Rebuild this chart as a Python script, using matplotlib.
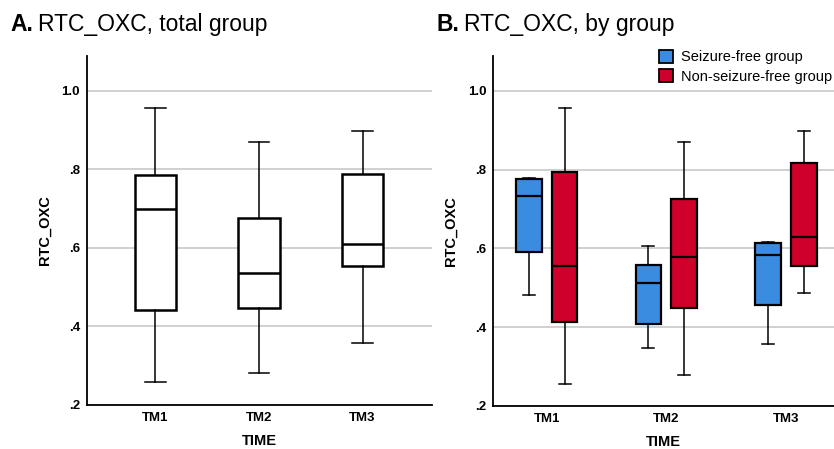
import matplotlib.pyplot as plt
import numpy as np

plt.rcParams['font.family'] = ['Liberation Sans', 'DejaVu Sans']

times = ['TM1', 'TM2', 'TM3']

# five-number summaries: low whisker, Q1, median, Q3, high whisker
total_stats = [
    [0.258, 0.441, 0.699, 0.786, 0.957],
    [0.282, 0.448, 0.537, 0.676, 0.870],
    [0.358, 0.555, 0.611, 0.787, 0.898],
]
free_stats = [
    [0.481, 0.590, 0.734, 0.775, 0.779],
    [0.348, 0.407, 0.511, 0.558, 0.607],
    [0.356, 0.455, 0.582, 0.613, 0.615],
]
nonfree_stats = [
    [0.256, 0.412, 0.555, 0.795, 0.956],
    [0.279, 0.449, 0.578, 0.724, 0.870],
    [0.487, 0.556, 0.629, 0.817, 0.898],
]
group_names = ['Seizure-free group', 'Non-seizure-free group']
group_colors = ['#3A8CE0', '#CF0029']
yticks = [0.2, 0.4, 0.6, 0.8, 1.0]
ytick_labels = ['.2', '.4', '.6', '.8', '1.0']
panel_titles = [('A.', 'RTC_OXC, total group'), ('B.', 'RTC_OXC, by group')]


def to_bxp(rows):
    out = []
    for lo, q1, med, q3, hi in rows:
        out.append(dict(whislo=lo, q1=q1, med=med, q3=q3, whishi=hi, fliers=[]))
    return out


def style_axis(ax, xlim):
    ax.set_ylim(0.2, 1.088)
    ax.set_xlim(*xlim)
    ax.set_yticks(yticks)
    ax.set_yticklabels(ytick_labels, fontweight='bold', fontsize=9.5)
    ax.set_xticks([1, 2, 3])
    ax.set_xticklabels(times, fontweight='bold', fontsize=9.5)
    ax.tick_params(length=0, pad=5)
    ax.yaxis.grid(True, color='#c8c8c8', linewidth=1.2)
    ax.set_axisbelow(True)
    for s in ['top', 'right']:
        ax.spines[s].set_visible(False)
    for s in ['left', 'bottom']:
        ax.spines[s].set_linewidth(1.3)
    ax.set_xlabel('TIME', fontweight='bold', fontsize=10.5, labelpad=7)
    ax.set_ylabel('RTC_OXC', fontweight='bold', fontsize=10.5, labelpad=7)


fig = plt.figure(figsize=(8.34, 4.49), dpi=100)
axA = fig.add_axes([0.1043, 0.098, 0.4137, 0.777])
axB = fig.add_axes([0.5915, 0.096, 0.4085, 0.779])

pos = np.arange(1, len(times) + 1)

axA.bxp(to_bxp(total_stats), positions=pos, widths=0.4, showfliers=False,
        patch_artist=True,
        boxprops=dict(facecolor='white', edgecolor='black', linewidth=1.8),
        medianprops=dict(color='black', linewidth=1.8),
        whiskerprops=dict(color='black', linewidth=1.1),
        capprops=dict(color='black', linewidth=1.1))
style_axis(axA, (0.34, 3.67))

off = 0.15
for stats, shift, col in [(free_stats, -off, group_colors[0]), (nonfree_stats, off, group_colors[1])]:
    axB.bxp(to_bxp(stats), positions=pos + shift, widths=0.215, showfliers=False,
            patch_artist=True, capwidths=0.1,
            boxprops=dict(facecolor=col, edgecolor='black', linewidth=1.6),
            medianprops=dict(color='black', linewidth=1.6),
            whiskerprops=dict(color='black', linewidth=1.1),
            capprops=dict(color='black', linewidth=1.1))
style_axis(axB, (0.555, 3.4))

handles = [plt.Rectangle((0, 0), 1, 1, facecolor=c, edgecolor='black', linewidth=1.3)
           for c in group_colors]
axB.legend(handles, group_names, loc='upper left', bbox_to_anchor=(0.47, 1.035),
           frameon=False, fontsize=10.5, handlelength=0.95, handleheight=1.05,
           handletextpad=0.55, labelspacing=0.3, borderaxespad=0)

# panel titles: bold letter followed by normal text
renderer = fig.canvas.get_renderer()
for (letter, rest), x0 in zip(panel_titles, [10 / 834, 436 / 834]):
    t = fig.text(x0, 0.932, letter, fontsize=16.5, fontweight='bold')
    bb = t.get_window_extent(renderer)
    fig.text(bb.x1 / fig.bbox.width + 0.006, 0.932, rest, fontsize=16.5)

plt.savefig('out.png', dpi=100)
